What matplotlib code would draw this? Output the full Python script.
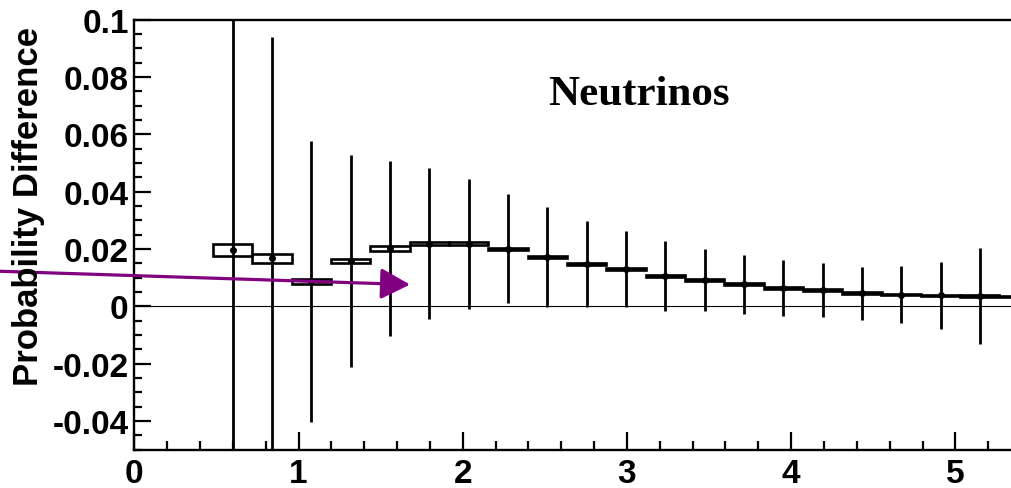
import matplotlib
matplotlib.use("Agg")
import numpy as np
from matplotlib import pyplot as plt
from matplotlib.ticker import MultipleLocator, FuncFormatter

# bin centres and width (GeV)
energy = [0.599, 0.838, 1.078, 1.317, 1.557, 1.796, 2.036, 2.275, 2.515, 2.754,
          2.994, 3.233, 3.473, 3.712, 3.952, 4.191, 4.431, 4.670, 4.910, 5.149,
          5.389]
bin_width = 0.2395

# probability difference per bin
prob_diff = [0.0197, 0.0168, 0.0087, 0.0158, 0.0202, 0.0219, 0.0219, 0.0201,
             0.0173, 0.0148, 0.0131, 0.0105, 0.0092, 0.0077, 0.0064, 0.0057,
             0.0046, 0.0041, 0.0038, 0.0036, 0.0033]
stat_err = [0.12, 0.0771, 0.049, 0.0371, 0.0305, 0.0262, 0.0227, 0.019,
            0.0175, 0.015, 0.0133, 0.0122, 0.0108, 0.0103, 0.0097, 0.0093,
            0.0093, 0.0099, 0.0117, 0.0169, 0.02]
sys_err = [0.0020, 0.0016, 0.0009, 0.0008, 0.00075, 0.0005, 0.00045, 0.0004,
           0.0004, 0.00035, 0.0004, 0.0004, 0.0003, 0.0003, 0.0003, 0.0003,
           0.0003, 0.0002, 0.0002, 0.0002, 0.0002]

# arrow drawn across the plot (data coords)
arrow_start = (-0.9, 0.0124)
arrow_end = (1.679, 0.0076)

x = np.array(energy)
y = np.array(prob_diff)
sy = np.array(sys_err)

fig = plt.figure(figsize=(10.12, 4.89), dpi=100)
ax = fig.add_axes([134.3 / 1012, 38.3 / 489, (1012 - 134.3) / 1012, 430 / 489])

ax.set_xlim(0, 5.345)
ax.set_ylim(-0.05, 0.1)

ax.axhline(0, color="k", lw=0.8, zorder=1)

# systematic boxes
ax.bar(x, 2 * sy, bottom=y - sy, width=bin_width, fill=False,
       edgecolor="k", linewidth=1.9, zorder=3)
# statistical errors
ax.errorbar(x, y, yerr=stat_err, fmt="o", ms=4, color="k",
            elinewidth=2.0, capsize=0, zorder=4)

ax.annotate("", xy=arrow_end, xytext=arrow_start,
            arrowprops=dict(arrowstyle="-|>,head_length=1.8,head_width=0.95",
                            color="#800080", lw=2.3, shrinkA=0, shrinkB=0),
            annotation_clip=False, zorder=6)

ax.text(639, 489 - 105, "Neutrinos", transform=None, fontsize=31,
        family="Liberation Serif", weight="bold", ha="center", va="baseline")
fig.text(28.5 / 1012, 1 - 206 / 489, "Probability Difference", rotation=90,
         fontsize=25, family="Liberation Sans", weight="bold",
         ha="center", va="center")

for side in ["left", "bottom", "top"]:
    ax.spines[side].set_linewidth(1.7)
ax.spines["right"].set_visible(False)

ax.xaxis.set_major_locator(MultipleLocator(1))
ax.xaxis.set_minor_locator(MultipleLocator(0.2))
ax.yaxis.set_major_locator(MultipleLocator(0.02))
ax.yaxis.set_minor_locator(MultipleLocator(0.005))


def fmt(v, pos):
    v = round(v, 4)
    if v == 0:
        return "0"
    return f"{v:g}"


ax.yaxis.set_major_formatter(FuncFormatter(fmt))
ax.tick_params(which="both", direction="in", top=False, right=False, width=1.6)
ax.tick_params(axis="x", which="major", length=13, pad=6)
ax.tick_params(axis="x", which="minor", length=6.5)
ax.tick_params(axis="y", which="major", length=12.5, pad=4)
ax.tick_params(axis="y", which="minor", length=6)
for lab in ax.get_xticklabels() + ax.get_yticklabels():
    lab.set_fontfamily("Liberation Sans")
    lab.set_fontweight("bold")
    lab.set_fontsize(24)

fig.savefig("out.png", dpi=100)
